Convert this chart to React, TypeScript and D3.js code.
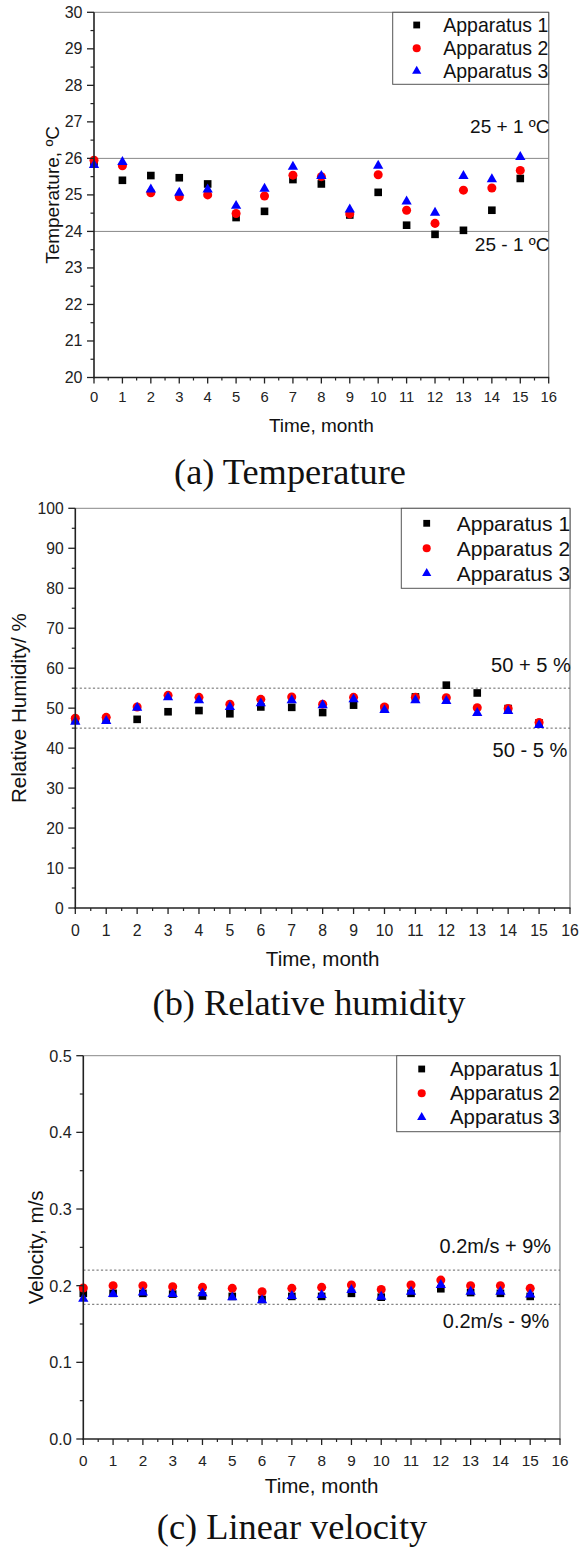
import React from "react";
import * as d3 from "d3";

// ---------- DATA ----------
const months = [0, 1, 2, 3, 4, 5, 6, 7, 8, 9, 10, 11, 12, 13, 14, 15];
const seriesNames = ["Apparatus 1", "Apparatus 2", "Apparatus 3"];

const tempA1 = [25.9, 25.4, 25.53, 25.47, 25.3, 24.38, 24.55, 25.42, 25.3, 24.45, 25.07, 24.17, 23.92, 24.03, 24.58, 25.45];
const tempA2 = [25.95, 25.8, 25.06, 24.95, 25.0, 24.49, 24.97, 25.54, 25.5, 24.48, 25.55, 24.58, 24.22, 25.13, 25.19, 25.67];
const tempA3 = [25.82, 25.9, 25.15, 25.06, 25.15, 24.7, 25.17, 25.77, 25.52, 24.6, 25.8, 24.82, 24.51, 25.52, 25.43, 26.04];

const humA1 = [47.0, 47.2, 47.2, 49.1, 49.4, 48.6, 50.3, 50.2, 48.9, 50.75, 50.0, 52.8, 55.75, 53.8, 49.9, 46.3];
const humA2 = [47.5, 47.7, 50.3, 53.2, 52.7, 51.0, 52.2, 52.8, 51.0, 52.7, 50.3, 52.7, 52.6, 50.1, 49.9, 46.4];
const humA3 = [46.6, 46.8, 50.1, 52.7, 52.0, 50.3, 51.2, 52.0, 50.75, 52.2, 49.5, 52.0, 51.8, 48.8, 49.3, 45.75];

const velA1 = [0.19, 0.19, 0.19, 0.189, 0.1865, 0.186, 0.182, 0.186, 0.186, 0.19, 0.185, 0.19, 0.196, 0.191, 0.19, 0.186];
const velA2 = [0.197, 0.2, 0.2, 0.1986, 0.1978, 0.1965, 0.192, 0.1965, 0.1978, 0.2008, 0.195, 0.2008, 0.2073, 0.2, 0.2, 0.1965];
const velA3 = [0.183, 0.189, 0.191, 0.189, 0.19, 0.1848, 0.181, 0.1865, 0.1877, 0.1943, 0.1855, 0.192, 0.2008, 0.192, 0.192, 0.1886];

const xTicks = d3.range(0, 17, 1);
const tempTicks = d3.range(20, 31, 1);
const humTicks = d3.range(0, 101, 10);
const velTicks = [0, 0.1, 0.2, 0.3, 0.4, 0.5];

const tempRefs = [26, 24];
const tempRefLabels = ["25 + 1 ºC", "25 - 1 ºC"];
const humRefs = [55, 45];
const humRefLabels = ["50 + 5 %", "50 - 5 %"];
const velRefs = [0.2203, 0.1757];
const velRefLabels = ["0.2m/s + 9%", "0.2m/s - 9%"];

// ---------- STYLE / LAYOUT ----------
const SANS = "'Liberation Sans', Arial, sans-serif";
const SERIF = "'Liberation Serif', 'Times New Roman', serif";
const colors = ["#000000", "#ff0000", "#0000ff"];
const symbols = [d3.symbolSquare, d3.symbolCircle, d3.symbolTriangle];
const symSizes = [58, 64, 46];

// font size so that `text` has advance width `target` (robust to font metrics)
let _ctx: CanvasRenderingContext2D | null = null;
function fitSize(text: string, target: number, family: string, fallback: number): number {
  try {
    if (!_ctx) _ctx = document.createElement("canvas").getContext("2d");
    if (!_ctx) return fallback;
    _ctx.font = `100px ${family}`;
    const w = _ctx.measureText(text).width;
    if (!w) return fallback;
    return (100 * target) / w;
  } catch (e) {
    return fallback;
  }
}

type Panel = {
  left: number; right: number; top: number; bottom: number;
  yDomain: [number, number]; yTicks: number[]; yMinorStep: number; yFmt: (v: number) => string;
  yTickFont: number; xTickFont: number;
  series: number[][]; refs: number[]; refLabels: string[]; refDashed: boolean;
  refLabelY: number[]; refLabelX: number[]; annTarget: number;
  yTitle: string; yTitleTarget: number; yTitleX: number; xTitleY: number; xTickY: number;
  legend: { x0: number; y1: number; rows: number[]; symX: number; textX: number; target: number };
  caption: string; captionX: number; captionY: number;
};

const panels: Panel[] = [
  {
    left: 94, right: 548.7, top: 12.3, bottom: 377.5,
    yDomain: [20, 30], yTicks: tempTicks, yMinorStep: 0.5, yFmt: (v) => d3.format("d")(v),
    yTickFont: 16, xTickFont: 14.8,
    series: [tempA1, tempA2, tempA3], refs: tempRefs, refLabels: tempRefLabels, refDashed: false,
    refLabelY: [126, 244.3], refLabelX: [549.5, 549.5], annTarget: 79.5,
    yTitle: "Temperature, ºC", yTitleTarget: 138, yTitleX: 52, xTitleY: 425, xTickY: 397,
    legend: { x0: 392.7, y1: 84.3, rows: [25, 48.3, 71], symX: 416.7, textX: 443.3, target: 105 },
    caption: "(a) Temperature", captionX: 290, captionY: 472,
  },
  {
    left: 75.3, right: 570, top: 508.3, bottom: 908,
    yDomain: [0, 100], yTicks: humTicks, yMinorStep: 5, yFmt: (v) => d3.format("d")(v),
    yTickFont: 15.7, xTickFont: 15.8,
    series: [humA1, humA2, humA3], refs: humRefs, refLabels: humRefLabels, refDashed: true,
    refLabelY: [665, 750], refLabelX: [571, 567.5], annTarget: 80,
    yTitle: "Relative Humidity/ %", yTitleTarget: 190, yTitleX: 18.5, xTitleY: 958, xTickY: 930,
    legend: { x0: 401.3, y1: 588.3, rows: [523.3, 548.3, 573.3], symX: 426.7, textX: 456.7, target: 113.5 },
    caption: "(b) Relative humidity", captionX: 309, captionY: 1003,
  },
  {
    left: 83.3, right: 560, top: 1055.7, bottom: 1439,
    yDomain: [0, 0.5], yTicks: velTicks, yMinorStep: 0.05, yFmt: (v) => d3.format(".1f")(v),
    yTickFont: 16.2, xTickFont: 15.3,
    series: [velA1, velA2, velA3], refs: velRefs, refLabels: velRefLabels, refDashed: true,
    refLabelY: [1246, 1321], refLabelX: [551, 549.3], annTarget: 111.5,
    yTitle: "Velocity, m/s", yTitleTarget: 114, yTitleX: 35, xTitleY: 1485, xTickY: 1460,
    legend: { x0: 396.7, y1: 1131.7, rows: [1069, 1093.3, 1117.3], symX: 421.7, textX: 450, target: 110 },
    caption: "(c) Linear velocity", captionX: 292, captionY: 1527,
  },
];

const captionFont = fitSize("(b) Relative humidity", 313, SERIF, 36);

function PanelView({ p }: { p: Panel }) {
  const x = d3.scaleLinear().domain([0, 16]).range([p.left, p.right]);
  const y = d3.scaleLinear().domain(p.yDomain).range([p.bottom, p.top]);
  const xMinor = d3.range(0.5, 16, 1);
  const [y0, y1] = p.yDomain;
  const nMinor = Math.round((y1 - y0) / p.yMinorStep);
  const yMinor = d3.range(0, nMinor + 1).map((i) => y0 + i * p.yMinorStep).filter((_, i) => i % 2 === 1);
  const axisColor = "#222";
  const frameColor = "#888";
  const legendFont = fitSize("Apparatus 1", p.legend.target, SANS, 19.5);
  const annFont = fitSize(p.refLabels[0], p.annTarget, SANS, 19.5);
  const titleFont = fitSize(p.yTitle, p.yTitleTarget, SANS, 19.5);
  return (
    <g>
      {/* frame top/right */}
      <line x1={p.left} x2={p.right} y1={p.top} y2={p.top} stroke={frameColor} strokeWidth={1} />
      <line x1={p.right} x2={p.right} y1={p.top} y2={p.bottom} stroke={frameColor} strokeWidth={1.2} />
      {/* reference lines */}
      {p.refs.map((r, i) => (
        <line key={"r" + i} x1={p.left} x2={p.right} y1={y(r)} y2={y(r)}
          stroke={p.refDashed ? "#666" : "#888"} strokeWidth={1}
          strokeDasharray={p.refDashed ? "2.2,2.2" : undefined} />
      ))}
      {p.refLabels.map((t, i) => (
        <text key={"rl" + i} x={p.refLabelX[i]} y={p.refLabelY[i]} textAnchor="end" dominantBaseline="central"
          fontFamily={SANS} fontSize={annFont} fill="#111">{t}</text>
      ))}
      {/* points */}
      {p.series.map((vals, si) => (
        <g key={"s" + si}>
          {vals.map((v, i) => (
            <path key={i} d={d3.symbol().type(symbols[si]).size(symSizes[si])() || ""}
              transform={`translate(${x(months[i])},${y(v)})`} fill={colors[si]} />
          ))}
        </g>
      ))}
      {/* legend */}
      <rect x={p.legend.x0} y={p.top} width={p.right - p.legend.x0} height={p.legend.y1 - p.top}
        fill="#fff" stroke="#555" strokeWidth={1} />
      {seriesNames.map((n, si) => (
        <g key={"l" + si}>
          <path d={d3.symbol().type(symbols[si]).size(symSizes[si] * 0.8)() || ""}
            transform={`translate(${p.legend.symX},${p.legend.rows[si]})`} fill={colors[si]} />
          <text x={p.legend.textX} y={p.legend.rows[si]} dominantBaseline="central" fontFamily={SANS}
            fontSize={legendFont} fill="#111">{n}</text>
        </g>
      ))}
      {/* axes */}
      <line x1={p.left} x2={p.left} y1={p.top} y2={p.bottom + 0.75} stroke={axisColor} strokeWidth={1.6} />
      <line x1={p.left - 0.75} x2={p.right + 0.5} y1={p.bottom} y2={p.bottom} stroke={axisColor} strokeWidth={1.6} />
      {xTicks.map((t) => (
        <g key={"xt" + t}>
          <line x1={x(t)} x2={x(t)} y1={p.bottom} y2={p.bottom + 6} stroke={axisColor} strokeWidth={1.3} />
          <text x={x(t)} y={p.xTickY} textAnchor="middle" dominantBaseline="central" fontFamily={SANS}
            fontSize={p.xTickFont} fill="#222">{t}</text>
        </g>
      ))}
      {xMinor.map((t) => (
        <line key={"xm" + t} x1={x(t)} x2={x(t)} y1={p.bottom} y2={p.bottom + 3} stroke={axisColor} strokeWidth={1.2} />
      ))}
      {p.yTicks.map((t) => (
        <g key={"yt" + t}>
          <line x1={p.left - 7} x2={p.left} y1={y(t)} y2={y(t)} stroke={axisColor} strokeWidth={1.3} />
          <text x={p.left - 11.5} y={y(t)} textAnchor="end" dominantBaseline="central" fontFamily={SANS}
            fontSize={p.yTickFont} fill="#222">{p.yFmt(t)}</text>
        </g>
      ))}
      {yMinor.map((t) => (
        <line key={"ym" + t} x1={p.left - 3.5} x2={p.left} y1={y(t)} y2={y(t)} stroke={axisColor} strokeWidth={1.2} />
      ))}
      <text x={(p.left + p.right) / 2} y={p.xTitleY} textAnchor="middle" dominantBaseline="central"
        fontFamily={SANS} fontSize={titleFont} fill="#111">Time, month</text>
      <text transform={`translate(${p.yTitleX},${(p.top + p.bottom) / 2}) rotate(-90)`} textAnchor="middle"
        dominantBaseline="central" fontFamily={SANS} fontSize={titleFont} fill="#111">{p.yTitle}</text>
      <text x={p.captionX} y={p.captionY} textAnchor="middle" dominantBaseline="central" fontFamily={SERIF}
        fontSize={captionFont} fill="#111">{p.caption}</text>
    </g>
  );
}

export default function App() {
  return (
    <svg width={580} height={1548} style={{ position: "absolute", left: 0, top: 0, background: "#fff" }}>
      <rect x={0} y={0} width={580} height={1548} fill="#fff" />
      {panels.map((p, i) => (
        <PanelView key={i} p={p} />
      ))}
    </svg>
  );
}
